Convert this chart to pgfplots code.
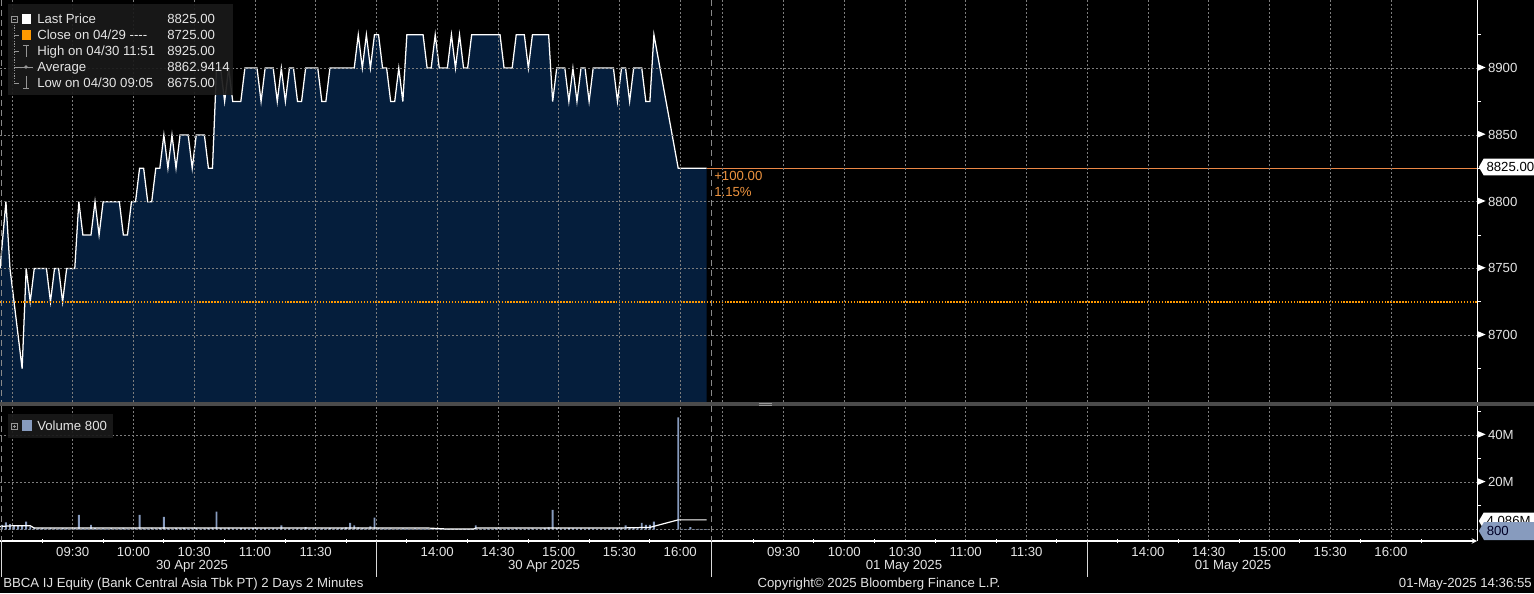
\documentclass[border=0pt]{standalone}
\usepackage{fontspec}
\setmainfont{Liberation Sans}
\usepackage{pgfplots}
\pgfplotsset{compat=1.18}
\usepackage{pgfplotstable}
\usetikzlibrary{shapes.symbols}

\definecolor{bbnavy}{RGB}{5,30,60}
\definecolor{bbgrid}{RGB}{125,125,125}
\definecolor{bborange}{RGB}{255,153,0}
\definecolor{bbline}{RGB}{235,135,70}
\definecolor{bbtext}{RGB}{228,228,228}
\definecolor{bbvol}{RGB}{135,155,190}
\definecolor{bbsep}{RGB}{75,75,75}
\definecolor{bblegend}{RGB}{26,26,26}
\definecolor{bbicon}{RGB}{150,150,150}
\newcommand\bbf{\fontsize{9.9pt}{11.5pt}\selectfont}

% price, 2-minute bars; x = trading minutes from 09:00 (13:30 follows 12:00)
\pgfplotstableread{
m p
-5.9 8750
-3 8800
-1 8750
1 8725
3 8700
5 8675
7 8750
9 8725
11 8750
13 8750
15 8750
17 8750
19 8725
21 8750
23 8750
25 8725
27 8750
29 8750
31 8750
33 8800
35 8775
37 8775
39 8775
41 8800
43 8775
45 8800
47 8800
49 8800
51 8800
53 8800
55 8775
57 8775
59 8800
61 8800
63 8825
65 8825
67 8800
69 8800
71 8825
73 8825
75 8850
77 8825
79 8850
81 8825
83 8850
85 8850
87 8850
89 8825
91 8850
93 8850
95 8850
97 8825
99 8825
101 8900
103 8900
105 8875
107 8900
109 8875
111 8875
113 8875
115 8900
117 8900
119 8900
121 8900
123 8875
125 8900
127 8900
129 8900
131 8875
133 8900
135 8875
137 8900
139 8900
141 8875
143 8875
145 8900
147 8900
149 8900
151 8900
153 8875
155 8875
157 8900
159 8900
161 8900
163 8900
165 8900
167 8900
169 8900
171 8925
173 8900
175 8925
177 8900
179 8925
181 8925
183 8900
185 8900
187 8875
189 8875
191 8900
193 8875
195 8925
197 8925
199 8925
201 8925
203 8925
205 8900
207 8900
209 8925
211 8900
213 8900
215 8900
217 8925
219 8900
221 8925
223 8900
225 8900
227 8925
229 8925
231 8925
233 8925
235 8925
237 8925
239 8925
241 8925
243 8900
245 8900
247 8900
249 8925
251 8925
253 8925
255 8900
257 8925
259 8925
261 8925
263 8925
265 8925
267 8875
269 8900
271 8900
273 8900
275 8875
277 8900
279 8875
281 8900
283 8900
285 8875
287 8900
289 8900
291 8900
293 8900
295 8900
297 8900
299 8875
301 8900
303 8900
305 8875
307 8900
309 8900
311 8900
313 8875
315 8875
317 8925
329 8825
343 8825
}\price

% volume in millions
\pgfplotstableread[row sep=\\]{
m v\\
-5 2.0\\ -3 3.0\\ -1 2.3\\ 1 1.9\\ 3 1.4\\ 5 1.6\\ 7 3.3\\ 9 1.2\\ 11 0.8\\ 13 0.5\\
15 0.6\\ 17 0.4\\ 19 0.7\\ 21 0.5\\ 23 0.4\\ 25 0.6\\ 27 0.5\\ 29 0.3\\ 31 0.6\\ 33 6.2\\
35 0.5\\ 37 0.4\\ 39 2.0\\ 41 0.6\\ 43 0.4\\ 45 0.5\\ 47 0.3\\ 49 0.6\\ 51 0.4\\ 53 0.5\\
55 0.7\\ 57 0.4\\ 59 0.5\\ 61 0.6\\ 63 6.2\\ 65 0.5\\ 67 0.4\\ 69 0.7\\ 71 0.5\\ 73 0.6\\
75 5.3\\ 77 0.5\\ 79 0.4\\ 81 0.6\\ 83 0.5\\ 85 0.7\\ 87 0.4\\ 89 0.5\\ 91 0.6\\ 93 0.4\\
95 0.5\\ 97 0.6\\ 99 0.8\\ 101 7.6\\ 103 0.6\\ 105 0.5\\ 107 0.7\\ 109 0.5\\ 111 0.4\\ 113 0.6\\
115 0.5\\ 117 0.4\\ 119 0.6\\ 121 0.5\\ 123 0.4\\ 125 0.5\\ 127 0.3\\ 129 0.5\\ 131 0.4\\ 133 1.7\\
135 0.4\\ 137 0.5\\ 139 0.3\\ 141 0.5\\ 143 0.4\\ 145 1.0\\ 147 0.4\\ 149 0.5\\ 151 0.3\\ 153 0.5\\
155 0.4\\ 157 0.6\\ 159 0.4\\ 161 0.5\\ 163 0.6\\ 165 0.9\\ 167 2.8\\ 169 1.7\\ 171 0.9\\ 173 0.6\\
175 0.5\\ 177 1.3\\ 179 5.0\\ 181 0.6\\ 183 0.5\\ 185 0.4\\ 187 0.5\\ 189 0.3\\ 191 0.4\\ 193 0.5\\
195 0.4\\ 197 0.3\\ 199 0.5\\ 201 0.4\\ 203 0.3\\ 205 0.4\\ 207 0.2\\ 209 0.3\\ 211 0.2\\ 213 0.2\\
215 0.2\\ 217 0.3\\ 219 0.2\\ 221 0.2\\ 223 0.3\\ 225 0.2\\ 227 0.3\\ 229 1.7\\ 231 0.4\\ 233 0.3\\
235 0.4\\ 237 0.3\\ 239 0.5\\ 241 0.4\\ 243 0.3\\ 245 0.4\\ 247 0.3\\ 249 0.5\\ 251 0.4\\ 253 0.3\\
255 0.4\\ 257 0.5\\ 259 0.3\\ 261 0.4\\ 263 0.6\\ 265 0.9\\ 267 8.3\\ 269 0.6\\ 271 0.5\\ 273 0.4\\
275 0.6\\ 277 0.5\\ 279 0.4\\ 281 0.5\\ 283 0.3\\ 285 0.5\\ 287 0.4\\ 289 0.3\\ 291 0.4\\ 293 0.3\\
295 0.5\\ 297 0.4\\ 299 0.6\\ 301 0.8\\ 303 1.7\\ 305 0.9\\ 307 0.8\\ 309 1.0\\ 311 2.8\\ 313 2.0\\
315 2.0\\ 317 3.3\\ 319 0\\ 321 0\\ 323 0\\ 325 0\\ 327 0\\ 329 47.5\\ 331 0.3\\ 333 0.2\\
335 1.0\\ 337 0.2\\ 339 0.3\\ 341 0.2\\ 343 0.2\\
}\vol

% average volume line
\pgfplotstableread{
m a
-5.9 1.3
1 1.6
9 1.6
11 0.6
206 0.6
215 0.2
228 0.2
229 0.6
298 0.6
315 0.9
329 4.086
343 4.086
}\avgvol

\pgfplotsset{
  bbstyle/.style={
    scale only axis, width=1107.75pt,
    xmin=-5.93, xmax=723.5,
    axis y line=right,
    axis line style={white, line width=0.8pt, -},
    xtick={0,30,60,90,120,150,180,210,240,270,300,330,351,381,411,441,471,501,531,561,591,621,651,681},
    grid=major,
    major grid style={bbgrid, line width=0.5pt, dash pattern=on 1.2pt off 1.8pt},
    tick align=outside,
    major tick length=0pt, minor tick length=3pt,
    tick style={white, line width=0.6pt},
    every tick label/.append style={font=\bbf, text=bbtext},
    yticklabel style={inner sep=0pt, xshift=0.6pt},
    clip=true,
  }
}

\newcommand\tri{\tikz[baseline=-0.75ex]\fill[white] (0,2.4pt)--(5.6pt,0)--(0,-2.4pt)--cycle;}

\begin{document}
\begin{tikzpicture}
\useasboundingbox (0,0) rectangle (1150.5pt,444.75pt);
\fill[black] (0,0) rectangle (1150.5pt,444.75pt);

% price panel
\begin{axis}[bbstyle, at={(0pt,143.25pt)}, anchor=south west,
  height=301.5pt, ymin=8650, ymax=8951,
  axis x line=bottom, xticklabel=\empty, x axis line style={draw=none},
  axis on top,
  ytick={8700,8750,8800,8850,8900},
  minor ytick={8675,8725,8775,8825,8875,8925},
  yticklabel={\tri\hspace{1.8pt}\pgfmathprintnumber[assume math mode=true,1000 sep={}]{\tick}},
]
\addplot[draw=none, fill=bbnavy] table[x=m, y=p]{\price} \closedcycle;
\addplot[white, line width=0.95pt] table[x=m, y=p]{\price};
\addplot[bborange, line width=1.2pt, dash pattern=on 1.1pt off 1.1pt] coordinates {(-5.93,8725) (723.5,8725)};
\addplot[bbline, line width=0.6pt] coordinates {(343,8825) (723.5,8825)};
\end{axis}

% volume panel
\begin{axis}[bbstyle, at={(0pt,39pt)}, anchor=south west,
  height=101.25pt, ymin=-4.87, ymax=52.3,
  axis x line=bottom,
  xticklabels={{},09:30,10:00,10:30,11:00,11:30,{},14:00,14:30,15:00,15:30,16:00,
               {},09:30,10:00,10:30,11:00,11:30,{},14:00,14:30,15:00,15:30,16:00},
  xticklabel style={yshift=-1.5pt},
  minor xtick={15,45,75,105,135,165,195,225,255,285,315,366,396,426,456,486,516,546,576,606,636,666,696},
  ytick={20,40}, minor ytick={10,30,50},
  yticklabel={\tri\hspace{1.8pt}\pgfmathprintnumber[assume math mode=true]{\tick}M},
]
\addplot[bbgrid, line width=0.5pt, dash pattern=on 1.2pt off 1.8pt] coordinates {(-5.93,0) (723.5,0)};
\addplot[ybar, bar width=1.4pt, fill=bbvol, draw=none] table[x=m, y=v]{\vol};
\addplot[white, line width=0.9pt] table[x=m, y=a]{\avgvol};
\end{axis}

% overlays in reference pixel units (origin top left)
\begin{scope}[shift={(0pt,444.75pt)}, x=0.75pt, y=-0.75pt, every node/.style={font=\bbf, text=bbtext}]
  \fill[bbsep] (0,402) rectangle (1534,406);
  \draw[gray!80, line width=0.5pt] (759,403.3)--(772,403.3) (759,405)--(772,405);
  \draw[bbgrid!90, line width=0.6pt, dash pattern=on 4.5pt off 3pt]
    (1.5,0)--(1.5,402) (1.5,406)--(1.5,541) (711,0)--(711,402) (711,406)--(711,541);
  \draw[white!85!black, line width=0.6pt]
    (1,541)--(1,577) (376.5,541)--(376.5,577) (711,541)--(711,577) (1087,541)--(1087,577);

  \node at (192,566) {30 Apr 2025};
  \node at (544,566) {30 Apr 2025};
  \node at (904,566) {01 May 2025};
  \node at (1233,566) {01 May 2025};
  \node[anchor=west, inner sep=0pt] at (3,584) {BBCA IJ Equity (Bank Central Asia Tbk PT) 2 Days 2 Minutes};
  \node at (879,584) {Copyright© 2025 Bloomberg Finance L.P.};
  \node[anchor=east, inner sep=0pt] at (1532,584) {01-May-2025 14:36:55};

  \node[anchor=west, inner sep=0pt, text=bbline!90!yellow] at (714,176) {+100.00};
  \node[anchor=west, inner sep=0pt, text=bbline!90!yellow] at (714,192) {1.15\%};

  % last price box
  \node[signal, signal to=west, signal pointer angle=120, fill=white, text=black, anchor=west,
        inner xsep=0.6pt, inner ysep=1.2pt, minimum height=12.5pt, minimum width=42pt]
        at (1478.5,167) {\makebox[34pt][l]{8825.00}};
  % volume boxes
  \node[signal, signal to=west, signal pointer angle=120, fill=white, text=black, anchor=west,
        inner xsep=0.6pt, inner ysep=1.2pt, minimum height=12.5pt, minimum width=42pt]
        at (1478.5,521) {\makebox[34pt][l]{4.086M}};
  \node[signal, signal to=west, signal pointer angle=120, fill=bbvol, text=black!85!blue, anchor=west,
        inner xsep=0.6pt, inner ysep=1.2pt, minimum height=13.5pt, minimum width=42pt]
        at (1478.5,531) {\makebox[34pt][l]{800}};

  % price legend
  \fill[bblegend, opacity=0.92] (8,4) rectangle (233,95);
  \draw[bbicon, line width=0.5pt] (11,16) rectangle (17,22) (12.5,19)--(15.5,19);
  \draw[bbicon, line width=0.5pt, dash pattern=on 1pt off 1pt] (14,22)--(14,83);
  \draw[bbicon, line width=0.5pt] (14,35)--(19,35) (14,51)--(19,51) (14,67)--(19,67) (14,83)--(19,83);
  \fill[white] (22,14) rectangle (31,24);
  \fill[bborange] (22,30) rectangle (31,40);
  \draw[bbicon, line width=0.7pt] (23,45)--(29,45) (26,45)--(26,57);
  \draw[bbicon, line width=0.7pt] (19,67)--(33,67); \fill[bbicon] (26,67) circle (1.8);
  \draw[bbicon, line width=0.7pt] (26,76)--(26,88) (23,88)--(29,88);
  \foreach \r/\t/\v in {19/{Last Price}/{8825.00}, 35/{Close on 04/29 -{}-{}-{}-}/{8725.00},
                        51/{High on 04/30 11:51}/{8925.00}, 67/{Average}/{8862.9414},
                        83/{Low on 04/30 09:05}/{8675.00}}{
    \node[anchor=base west, inner sep=0pt] at (37,\r+4.5) {\t};
    \node[anchor=base west, inner sep=0pt] at (167,\r+4.5) {\v};
  }

  % volume legend
  \fill[bblegend, opacity=0.92] (8,414) rectangle (113,438);
  \draw[bbicon, line width=0.5pt] (11,423) rectangle (17,429) (12.5,426)--(15.5,426) (14,424.5)--(14,427.5);
  \fill[bbvol] (22,420) rectangle (32,431);
  \node[anchor=base west, inner sep=0pt] at (37,430.5) {Volume 800};
\end{scope}
\end{tikzpicture}
\end{document}
